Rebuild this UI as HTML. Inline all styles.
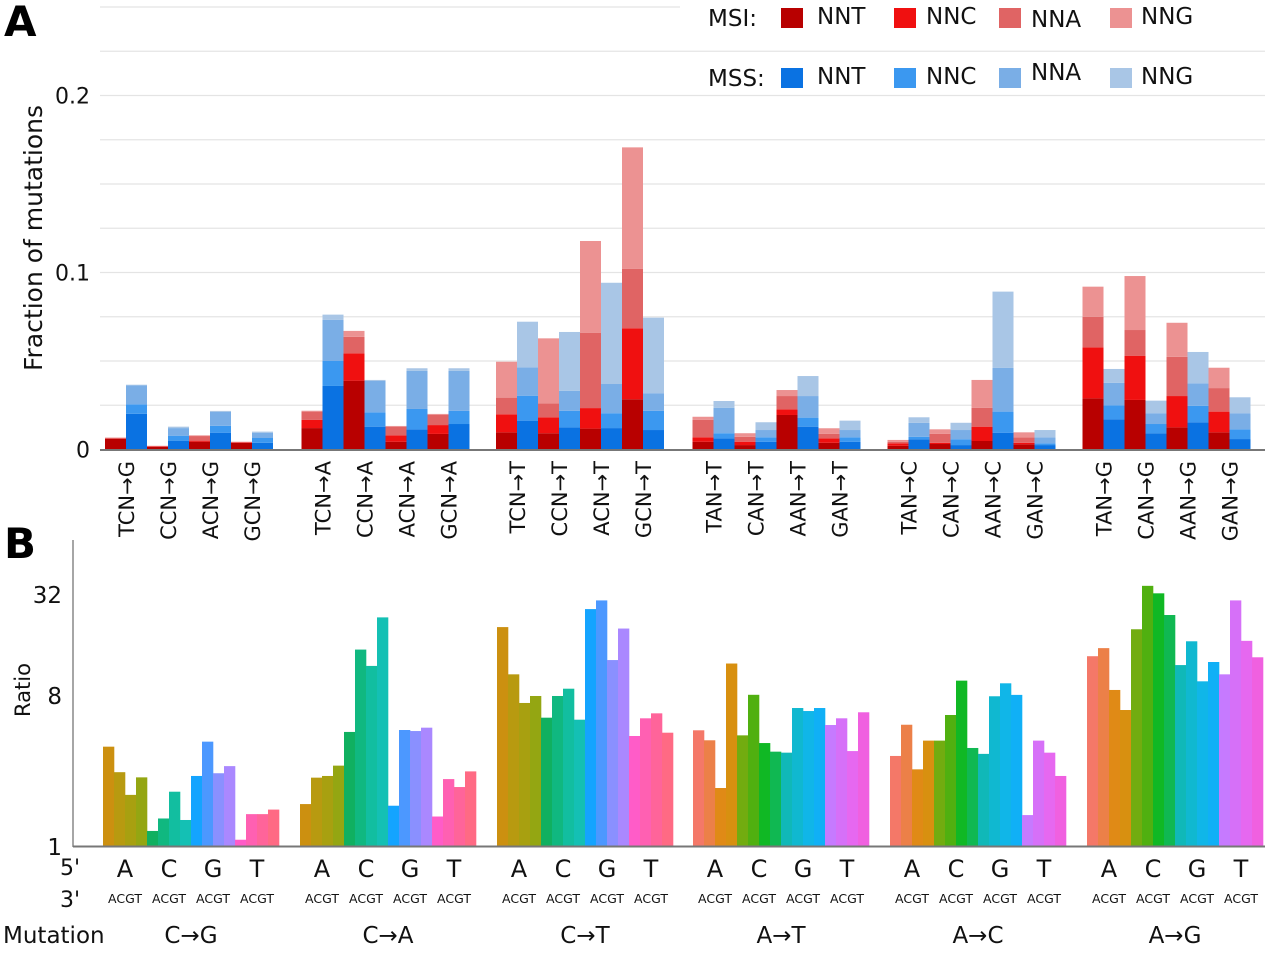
<!DOCTYPE html>
<html><head><meta charset="utf-8"><style>
body{margin:0;background:#fff;}
svg{display:block;font-family:"DejaVu Sans","Liberation Sans",sans-serif;}
</style></head><body>
<svg id="fig" width="1280" height="958" viewBox="0 0 1280 958"></svg>
<script>
// ---------- Panel A data ----------
const catsA = ["TCN→G","CCN→G","ACN→G","GCN→G","TCN→A","CCN→A","ACN→A","GCN→A","TCN→T","CCN→T","ACN→T","GCN→T","TAN→T","CAN→T","AAN→T","GAN→T","TAN→C","CAN→C","AAN→C","GAN→C","TAN→G","CAN→G","AAN→G","GAN→G"];
const msiNNT = [.0061,.0015,.0044,.0038,.0121,.0389,.0044,.0088,.0097,.0092,.0118,.0284,.0044,.0025,.0195,.0038,.0021,.0031,.0048,.0029,.0289,.028,.0125,.0097];
const msiNNC = [.0002,.0003,.0006,.0003,.0046,.0154,.0036,.005,.0102,.009,.0116,.0401,.0025,.0019,.0032,.0025,.0014,.0007,.0081,.0009,.0288,.025,.0177,.0117];
const msiNNA = [.0003,.0002,.0026,.0001,.0047,.0094,.0049,.0057,.0094,.0079,.0426,.0335,.0098,.0028,.0075,.0025,.0009,.005,.0107,.0031,.0173,.0145,.0222,.0133];
const msiNNG = [.0002,.0001,.0004,.0002,.0005,.0033,.0004,.0006,.0203,.0367,.0518,.0687,.0018,.002,.0034,.0032,.001,.0026,.0157,.0028,.017,.0305,.0192,.0115];
const mssNNT = [.0202,.005,.0095,.0038,.0359,.0129,.0114,.0144,.0163,.0125,.0121,.011,.0063,.0044,.0129,.0044,.0058,.0025,.0095,.0025,.0171,.0092,.0154,.0059];
const mssNNC = [.0053,.0028,.0039,.0027,.0141,.0081,.0115,.0075,.0141,.0094,.0084,.0109,.0029,.0025,.0051,.0025,.0014,.0033,.0119,.001,.0079,.0052,.0093,.0055];
const mssNNA = [.0108,.0043,.0078,.003,.0232,.0177,.0216,.0226,.016,.0113,.0165,.0099,.0144,.0041,.0122,.0041,.0079,.0052,.0248,.0034,.0127,.0061,.0127,.0091];
const mssNNG = [.0003,.0008,.0006,.0006,.003,.0006,.0014,.0014,.0258,.0332,.0572,.0427,.0038,.0044,.0113,.0053,.0031,.0041,.043,.0041,.0078,.0071,.0177,.009];
const ticksA = [0, 0.1, 0.2];
const tickLabelsA = ["0","0.1","0.2"];
// ---------- Panel B data ----------
const mutationsB = ["C→G","C→A","C→T","A→T","A→C","A→G"];
const fiveB = ["A","C","G","T"];
const ratioB = [
 [3.92,2.76,2.02,2.57, 1.23,1.46,2.11,1.43, 2.62,4.2,2.72,3.0, 1.09,1.55,1.55,1.65],
 [1.78,2.56,2.62,3.02, 4.8,14.9,11.9,23.2, 1.74,4.93,4.86,5.09, 1.5,2.51,2.25,2.79],
 [20.3,10.6,7.15,7.87, 5.84,7.87,8.7,5.68, 26.0,29.3,12.9,19.9, 4.54,5.79,6.2,4.75],
 [4.91,4.28,2.22,12.3, 4.58,8.0,4.12,3.66, 3.61,6.67,6.4,6.67, 5.28,5.79,3.69,6.29],
 [3.45,5.3,2.87,4.26, 4.26,6.06,9.72,3.85, 3.55,7.84,9.37,7.99, 1.53,4.26,3.61,2.62],
 [13.6,15.2,8.55,6.49, 19.7,35.8,32.3,23.97, 12.04,16.7,9.63,12.56, 10.6,29.3,16.8,13.4]
];
const ticksB = [1, 8, 32];

// ---------- styles / layout ----------
const colMSI = ["#b80000","#f01010","#e06464","#ec9292"];
const colMSS = ["#0a72e2","#3b98f0","#7aaee6","#a9c6e6"];
const colC = ["#cc9010","#b89a10","#a8a010","#94a612","#10b060","#10b880","#12bea0","#14c0b4","#14a4ff","#4c98ff","#8a90ff","#aa88ff","#ff5cc8","#ff60b2","#ff649a","#ff6a84"];
const colA = ["#f47868","#ec8048","#e08a16","#d89010","#72ac10","#50b010","#10b824","#10b852","#10b8b8","#10b8d0","#10b6e8","#10b0f6","#c67aff","#d670f8","#e668f0","#f060e0"];
const startA = [105,301.5,496,692.5,887.5,1082.5];
const startB = [103,300,497,693,890,1087];
const NS="http://www.w3.org/2000/svg";
const svg=document.getElementById('fig');
function mk(tag,attrs,parent,text){const e=document.createElementNS(NS,tag);for(const k in attrs)e.setAttribute(k,attrs[k]);if(text!==undefined)e.textContent=text;(parent||svg).appendChild(e);return e;}
const yA = v => 449.5 - v*1770;
const xA = i => startA[Math.floor(i/4)] + (i%4)*42;
const yB = v => 846 - Math.log2(v)*50.4;
const xB = (g,j) => startB[g] + j*11;

// ---------- Panel A ----------
const gA = mk('g',{});


for(let k=1;k<=10;k++){
  const v=k*0.025;
  const ln=mk('line',{x1:100,x2:(k===10?680:1265),y1:yA(v),y2:yA(v),stroke:'#e4e4e4','stroke-width':1.3},gA);
  
  
}
const segsMSI=[msiNNT,msiNNC,msiNNA,msiNNG], segsMSS=[mssNNT,mssNNC,mssNNA,mssNNG];
for(let i=0;i<catsA.length;i++){
  [[segsMSI,colMSI,0,'msi'],[segsMSS,colMSS,21,'mss']].forEach(([segs,cols,off,nm])=>{
    let cum=0;
    for(let s=0;s<4;s++){
      const v=segs[s][i];
      const r=mk('rect',{x:xA(i)+off,y:yA(cum+v),width:21,height:Math.max(0,yA(cum)-yA(cum+v)),fill:cols[s]},gA);
      
      
      cum+=v;
    }
  });
  const cx=xA(i)+21;
  const t=mk('text',{x:0,y:0,transform:`translate(${cx+8},461) rotate(-90)`,'text-anchor':'end','font-size':21,fill:'#111'},gA,catsA[i]);
  
  
}
const baseA=mk('line',{x1:100,x2:1265,y1:450,y2:450,stroke:'#777','stroke-width':2},gA);


ticksA.forEach((v,k)=>{
  const t=mk('text',{x:90,y:yA(v)+8,'text-anchor':'end','font-size':22,fill:'#111'},gA,tickLabelsA[k]);
  
  
});
const ytA=mk('text',{x:0,y:0,transform:'translate(42,238) rotate(-90)','text-anchor':'middle','font-size':25,fill:'#111'},gA,'Fraction of mutations');


const lA=mk('text',{x:4,y:36,'font-size':42,'font-weight':'bold',fill:'#000'},gA,'A');


// legend
const leg=mk('g',{});


const legNames=["NNT","NNC","NNA","NNG"], sqX=[781,894,999,1110], lbX=[817,926,1031,1141];
[["MSI:",colMSI,17],["MSS:",colMSS,77]].forEach(([lab,cols,cy])=>{
  const t=mk('text',{x:708,y:cy+9,'font-size':23,fill:'#111'},leg,lab);
  
  
  for(let s=0;s<4;s++){
    const r=mk('rect',{x:sqX[s],y:cy-9,width:22,height:20,fill:cols[s]},leg);
    
    
    const dy = s===2 ? (cy<50?3:-4) : 0;
    const tt=mk('text',{x:lbX[s],y:cy+7+dy,'font-size':23,fill:'#111'},leg,legNames[s]);
    
    
  }
});

// ---------- Panel B ----------
const gB=mk('g',{});


ratioB.forEach((row,g)=>{
  const cols = g<3 ? colC : colA;
  row.forEach((v,j)=>{
    const r=mk('rect',{x:xB(g,j),y:yB(v),width:11.3,height:846-yB(v),fill:cols[j]},gB);
    
    
  });
  fiveB.forEach((b,k)=>{
    const cx=startB[g]+k*44+22;
    const t=mk('text',{x:cx,y:877,'text-anchor':'middle','font-size':24,fill:'#111'},gB,b);
    
    
    const t2=mk('text',{x:cx,y:903,'text-anchor':'middle','font-size':12.5,fill:'#111'},gB,'ACGT');
    
    
  });
  const m=mk('text',{x:startB[g]+88,y:943,'text-anchor':'middle','font-size':23,fill:'#111'},gB,mutationsB[g]);
  
  
});
const axB=mk('line',{x1:73,x2:73,y1:540,y2:847,stroke:'#888','stroke-width':1.5},gB);


const baseB=mk('line',{x1:73,x2:1265,y1:846.5,y2:846.5,stroke:'#777','stroke-width':2},gB);


ticksB.forEach(v=>{
  const t=mk('text',{x:62,y:yB(v)+9,'text-anchor':'end','font-size':23,fill:'#111'},gB,String(v));
  
  
});
const ytB=mk('text',{x:0,y:0,transform:'translate(30,690) rotate(-90)','text-anchor':'middle','font-size':21,fill:'#111'},gB,'Ratio');


const p5=mk('text',{x:60,y:875,'font-size':22,fill:'#111'},gB,"5'");


const p3=mk('text',{x:60,y:907,'font-size':22,fill:'#111'},gB,"3'");


const mt=mk('text',{x:3,y:943,'font-size':23,fill:'#111'},gB,'Mutation');


const lB=mk('text',{x:4,y:558,'font-size':42,'font-weight':'bold',fill:'#000'},gB,'B');


</script>
</body></html>
